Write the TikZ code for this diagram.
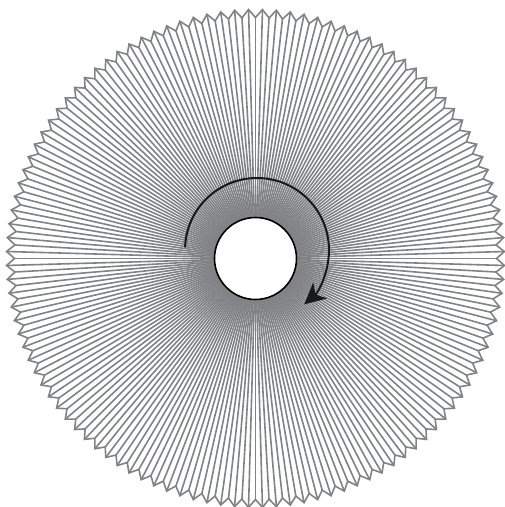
\documentclass[tikz,border=0pt]{standalone}
\usetikzlibrary{arrows.meta}
\definecolor{spokegray}{HTML}{808285}
\tikzset{
  spoke/.style={draw=spokegray, line width=1.6pt, line join=miter},
  hub/.style={circle, draw=black, line width=1.6pt, fill=white,
    minimum size=82pt, inner sep=0pt},
  turnarrow/.style={-{Stealth[length=21pt,width=21pt,inset=6pt]},
    line width=2pt, draw=black!90}
}
\begin{document}
\begin{tikzpicture}[x=1pt,y=1pt]
  \useasboundingbox (0,0) rectangle (505,507);
  \coordinate (c) at (255.5,248.5);
  \coordinate (turnc) at (257,257);
  % spokes from the hub to every rim corner
  \begin{scope}[shift={(c)}]
    \foreach \k in {0,...,223} {
      \draw[spoke] (0,0) -- ({90+\k/224*360}:{245-4*cos(180*mod(\k,2))});
    }
    % serrated rim
    \draw[spoke] (90:241)
      \foreach \k in {1,...,223} { -- ({90+\k/224*360}:{245-4*cos(180*mod(\k,2))}) }
      -- cycle;
  \end{scope}
  \node[hub] (hub) at (c) {};
  % direction of turning
  \draw[turnarrow] (turnc) ++(178:72) arc[start angle=178, end angle=-49, radius=72];
\end{tikzpicture}
\end{document}
